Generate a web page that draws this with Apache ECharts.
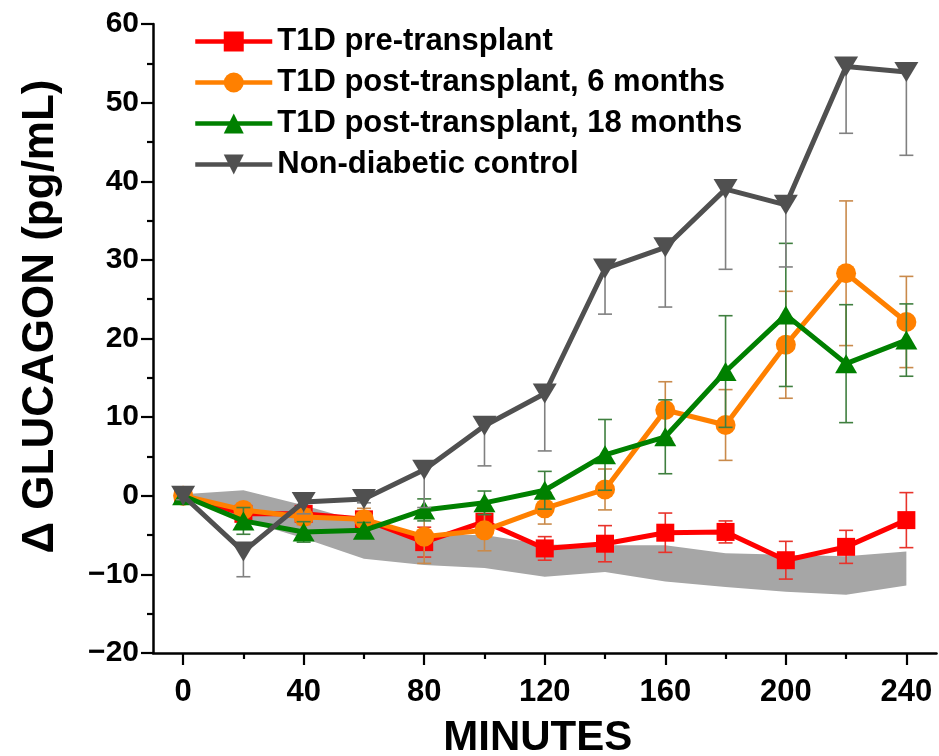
<!DOCTYPE html>
<html>
<head>
<meta charset="utf-8">
<script src="https://cdn.jsdelivr.net/npm/echarts@6/dist/echarts.min.js"></script>
<style>
  html, body { margin: 0; padding: 0; background: #ffffff; }
  #chart { width: 939px; height: 756px; }
</style>
</head>
<body>
<div id="chart"></div>
<script>
// Sampling times (minutes after the stimulus)
const minutes = [0, 20, 40, 60, 80, 100, 120, 140, 160, 180, 200, 220, 240];

// Change in glucagon (pg/mL), mean and error per time point
const preTransplant      = [0, -2.3, -2.3, -3.0, -5.9, -3.3, -6.7, -6.1, -4.7, -4.6, -8.2, -6.5, -3.1];
const preTransplantErr   = [0.5, 1.0, 1.0, 0.8, 1.9, 0.9, 1.5, 2.3, 2.5, 1.4, 2.4, 2.1, 3.5];
const post6Months        = [0, -1.8, -2.7, -3.0, -5.2, -4.4, -1.6, 0.8, 10.9, 9.0, 19.2, 28.3, 22.1];
const post6MonthsErr     = [0.3, 0.8, 1.0, 1.4, 3.4, 2.6, 2.0, 2.6, 3.6, 4.5, 6.8, 9.2, 5.8];
const post18Months       = [0, -3.2, -4.6, -4.4, -1.8, -0.9, 0.7, 5.2, 7.5, 15.8, 23.0, 16.8, 19.8];
const post18MonthsErr    = [0.5, 1.7, 1.3, 1.0, 1.4, 1.5, 2.4, 4.5, 4.7, 7.1, 9.1, 7.5, 4.6];
const control            = [0, -7.1, -0.8, -0.4, 3.3, 8.9, 13.0, 28.9, 31.6, 39.0, 37.0, 54.6, 53.9];
const controlErr         = [0.5, 3.2, 1.5, 0.5, 4.8, 5.1, 7.3, 5.8, 7.6, 10.2, 7.9, 8.5, 10.6];

// Shaded reference range
const bandLow  = [-0.3, -3.1, -5.4, -8.0, -8.8, -9.2, -10.3, -9.7, -10.9, -11.6, -12.2, -12.6, -11.4];
const bandHigh = [0.2, 0.7, -1.2, -3.4, -5.0, -5.0, -6.2, -6.3, -6.3, -7.3, -7.5, -7.7, -7.1];

// Axis ticks
const xMajorTicks = [0, 40, 80, 120, 160, 200, 240];
const xMinorTicks = [20, 60, 100, 140, 180, 220];

const seriesNames = [
  'T1D pre-transplant',
  'T1D post-transplant, 6 months',
  'T1D post-transplant, 18 months',
  'Non-diabetic control'
];

const FONT = 'Liberation Sans, Arial, sans-serif';

function pairs(values) {
  return minutes.map((t, i) => [t, values[i]]);
}

function errorData(values, errs, lowerOnly) {
  return minutes.map((t, i) => [t, values[i] - errs[i], lowerOnly ? values[i] : values[i] + errs[i]]);
}

function errorBarRenderer(color, lowerOnly) {
  return function (params, api) {
    const x = api.value(0);
    const lo = api.coord([x, api.value(1)]);
    const hi = api.coord([x, api.value(2)]);
    const half = 7;
    const style = { stroke: color, lineWidth: 1.6, fill: null };
    const children = [
      { type: 'line', shape: { x1: lo[0], y1: lo[1], x2: hi[0], y2: hi[1] }, style: style },
      { type: 'line', shape: { x1: lo[0] - half, y1: lo[1], x2: lo[0] + half, y2: lo[1] }, style: style }
    ];
    if (!lowerOnly) {
      children.push({ type: 'line', shape: { x1: hi[0] - half, y1: hi[1], x2: hi[0] + half, y2: hi[1] }, style: style });
    }
    return { type: 'group', children: children };
  };
}

function errorSeries(values, errs, color, z, lowerOnly) {
  return {
    type: 'custom',
    xAxisIndex: 0,
    yAxisIndex: 0,
    renderItem: errorBarRenderer(color, lowerOnly),
    encode: { x: 0, y: [1, 2] },
    data: errorData(values, errs, lowerOnly),
    z: z,
    silent: true
  };
}

// The shaded range is one polygon: upper edge left to right, lower edge back.
function bandRenderer(params, api) {
  if (params.dataIndex !== 0) return null;
  const upper = minutes.map((t, i) => api.coord([t, bandHigh[i]]));
  const lower = minutes.map((t, i) => api.coord([t, bandLow[i]])).reverse();
  return {
    type: 'polygon',
    shape: { points: upper.concat(lower) },
    style: { fill: '#a6a6a6', stroke: null }
  };
}

function lineSeries(name, values, color, symbol, size, z) {
  return {
    name: name,
    type: 'line',
    data: pairs(values),
    symbol: symbol,
    symbolSize: size,
    showAllSymbol: true,
    color: color,
    itemStyle: { color: color, borderWidth: 0 },
    lineStyle: { color: color, width: 5 },
    z: z
  };
}

const chart = echarts.init(document.getElementById('chart'), null, { renderer: 'canvas' });

chart.setOption({
  animation: false,
  backgroundColor: '#ffffff',
  grid: { left: 153, top: 24, right: 2.5, bottom: 103, containLabel: false, outerBoundsMode: 'none' },
  legend: {
    orient: 'vertical',
    left: 188,
    top: 21,
    itemWidth: 77,
    itemHeight: 25,
    itemGap: 10,
    selectedMode: false,
    data: seriesNames,
    lineStyle: { width: 4.5 },
    textStyle: { fontFamily: FONT, fontWeight: 'bold', fontSize: 31, color: '#000' }
  },
  xAxis: [
    {
      type: 'value',
      min: -10,
      max: 250,
      axisLine: { show: true, onZero: false, lineStyle: { color: '#000', width: 2.5 } },
      axisTick: { show: true, customValues: xMajorTicks, length: 12, lineStyle: { color: '#000', width: 2.2 } },
      axisLabel: { customValues: xMajorTicks, fontFamily: FONT, fontWeight: 'bold', fontSize: 31, color: '#000', margin: 24 },
      splitLine: { show: false },
      name: 'MINUTES',
      nameLocation: 'middle',
      nameGap: 64,
      nameTextStyle: { fontFamily: FONT, fontWeight: 'bold', fontSize: 42, color: '#000', padding: [0, 14, 0, 0] }
    },
    {
      type: 'value',
      min: -10,
      max: 250,
      position: 'bottom',
      offset: 0,
      axisLine: { show: false, onZero: false },
      axisTick: { show: true, customValues: xMinorTicks, length: 6, lineStyle: { color: '#000', width: 2.2 } },
      axisLabel: { show: false },
      splitLine: { show: false }
    }
  ],
  yAxis: {
    type: 'value',
    min: -20,
    max: 60,
    interval: 10,
    axisLine: { show: true, onZero: false, lineStyle: { color: '#000', width: 2.5 } },
    axisTick: { show: true, length: 12, lineStyle: { color: '#000', width: 2.2 } },
    minorTick: { show: true, splitNumber: 2, length: 6, lineStyle: { color: '#000', width: 2.2 } },
    splitLine: { show: false },
    axisLabel: {
      fontFamily: FONT, fontWeight: 'bold', fontSize: 30, color: '#000', margin: 14,
      formatter: v => String(v).replace('-', '\u2212')
    },
    name: '\u0394 GLUCAGON (pg/mL)',
    nameLocation: 'middle',
    nameGap: 90,
    nameTextStyle: { fontFamily: FONT, fontWeight: 'bold', fontSize: 44, color: '#000', padding: [0, 0, 0, 44] }
  },
  series: [
    {
      type: 'custom',
      renderItem: bandRenderer,
      encode: { x: 0, y: [1, 2] },
      data: minutes.map((t, i) => [t, bandLow[i], bandHigh[i]]),
      silent: true,
      z: 1
    },
    errorSeries(preTransplant, preTransplantErr, '#e8332b', 2, false),
    lineSeries(seriesNames[0], preTransplant, '#ff0000', 'rect', 18, 3),
    errorSeries(post6Months, post6MonthsErr, '#c98a4b', 4, false),
    lineSeries(seriesNames[1], post6Months, '#ff8000', 'circle', 20, 5),
    errorSeries(post18Months, post18MonthsErr, '#3f7f3f', 6, false),
    lineSeries(seriesNames[2], post18Months, '#008000', 'triangle', [22, 19], 7),
    errorSeries(control, controlErr, '#808080', 8, true),
    lineSeries(seriesNames[3], control, '#505050', 'path://M0,0L20,0L10,17Z', [24, 20], 9)
  ]
});
</script>
</body>
</html>
